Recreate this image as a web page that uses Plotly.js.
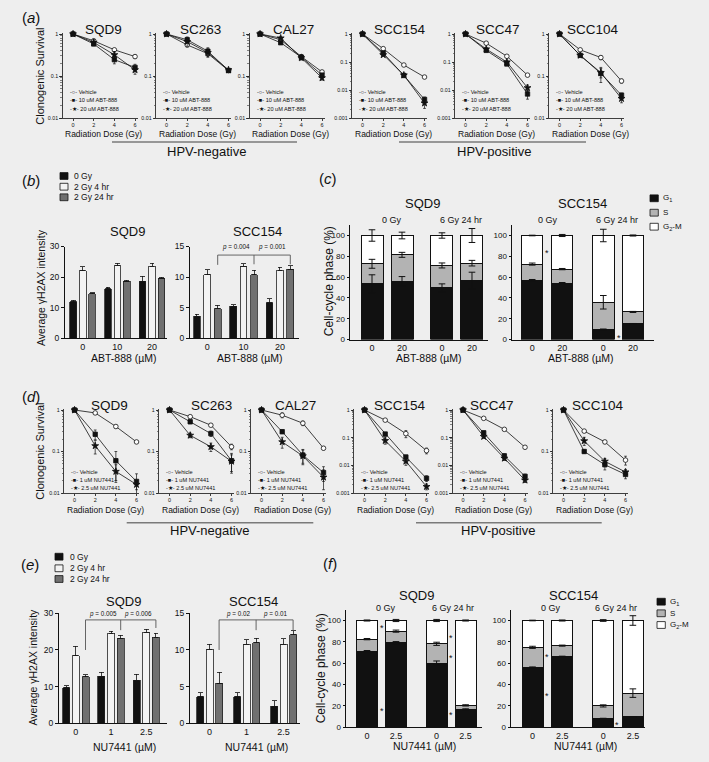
<!DOCTYPE html>
<html><head><meta charset="utf-8">
<script src="https://cdn.plot.ly/plotly-3.0.1.min.js"></script>
<style>html,body{margin:0;padding:0;background:#eeeeee;overflow:hidden}</style>
</head><body><div id="chart" style="width:709px;height:762px;"></div>
<script>
// ================= DATA =================
const doses = [0, 2, 4, 6];
const cellLines = ['SQD9', 'SC263', 'CAL27', 'SCC154', 'SCC47', 'SCC104'];
const decTicks = [1, 0.1, 0.01, 0.001];
const decLabels = ['1', '0.1', '0.01', '0.001'];

// (a) clonogenic survival, ABT-888 (rows follow cellLines)
const abtLegend = ['Vehicle', '10 uM ABT-888', '20 uM ABT-888'];
const aVehicle = [[1,0.69,0.42,0.29],[1,0.55,0.34,0.135],[1,0.73,0.29,0.125],[1,0.30,0.078,0.029],[1,0.47,0.16,0.034],[1,0.42,0.275,0.076]];
const aVehicleErr = [[0,0.03,0.03,0.03],[0,0.06,0.05,0.01],[0,0.05,0.03,0.01],[0,0.02,0.006,0.003],[0,0.04,0.01,0.004],[0,0.03,0.03,0.008]];
const a10uM = [[1,0.58,0.245,0.16],[1,0.73,0.39,0.135],[1,0.62,0.28,0.105],[1,0.21,0.033,0.0046],[1,0.26,0.085,0.0072],[1,0.31,0.115,0.035]];
const a10uMErr = [[0,0.05,0.05,0.03],[0,0.12,0.08,0.01],[0,0.05,0.03,0.01],[0,0.015,0.004,0.001],[0,0.03,0.01,0.0025],[0,0.02,0.045,0.004]];
const a20uM = [[1,0.63,0.32,0.14],[1,0.66,0.36,0.14],[1,0.80,0.27,0.09],[1,0.18,0.034,0.0034],[1,0.29,0.10,0.012],[1,0.31,0.12,0.029]];
const a20uMErr = [[0,0.1,0.06,0.03],[0,0.15,0.08,0.01],[0,0.05,0.03,0.01],[0,0.02,0.004,0.0012],[0,0.03,0.015,0.003],[0,0.02,0.03,0.006]];

// (d) clonogenic survival, NU7441
const nuLegend = ['Vehicle', '1 uM NU7441', '2.5 uM NU7441'];
const dVehicle = [[1,0.85,0.40,0.17],[1,0.69,0.43,0.13],[1,0.75,0.48,0.12],[1,0.43,0.14,0.034],[1,0.50,0.20,0.045],[1,0.31,0.17,0.062]];
const dVehicleErr = [[0,0.03,0.03,0.01],[0,0.05,0.03,0.02],[0,0.1,0.06,0.01],[0,0.03,0.04,0.008],[0,0.03,0.02,0.005],[0,0.02,0.015,0.015]];
const d1uM = [[1,0.26,0.06,0.019],[1,0.52,0.27,0.06],[1,0.30,0.082,0.031],[1,0.135,0.020,0.0034],[1,0.15,0.022,0.0040],[1,0.10,0.048,0.028]];
const d1uMErr = [[0,0.07,0.04,0.01],[0,0.05,0.04,0.03],[0,0.03,0.03,0.012],[0,0.02,0.003,0.0008],[0,0.02,0.004,0.0008],[0,0.01,0.012,0.006]];
const d25uM = [[1,0.137,0.033,0.016],[1,0.245,0.13,0.058],[1,0.17,0.078,0.024],[1,0.078,0.014,0.0017],[1,0.11,0.018,0.0029],[1,0.18,0.058,0.032]];
const d25uMErr = [[0,0.05,0.015,0.004],[0,0.03,0.03,0.025],[0,0.05,0.03,0.012],[0,0.02,0.004,0.0004],[0,0.015,0.003,0.0005],[0,0.04,0.01,0.005]];

// (b)/(e) gamma-H2AX intensity: rows = 0 Gy, 2 Gy 4 hr, 2 Gy 24 hr
const gammaLegend = ['0 Gy', '2 Gy 4 hr', '2 Gy 24 hr'];
const abtDoses = ['0', '10', '20'];
const nuDoses = ['0', '1', '2.5'];
const bSQD9 = [[12.0,16.2,18.7],[22.1,23.7,23.6],[14.6,18.7,19.6]];
const bSQD9Err = [[0.4,0.5,1.5],[1.3,0.9,0.9],[0.3,0.3,0.4]];
const bSCC154 = [[3.6,5.2,5.8],[10.4,11.8,11.1],[4.8,10.4,11.25]];
const bSCC154Err = [[0.3,0.25,0.7],[0.8,0.4,0.55],[0.6,0.7,0.6]];
const bSCC154P = ['<i>p</i> = 0.004', '<i>p</i> = 0.001'];
const eSQD9 = [[9.7,12.8,11.7],[18.4,24.5,24.8],[12.7,23.2,23.5]];
const eSQD9Err = [[0.6,1.1,1.7],[2.6,0.6,0.9],[0.5,0.8,1.0]];
const eSQD9P = ['<i>p</i> = 0.005', '<i>p</i> = 0.006'];
const eSCC154 = [[3.6,3.6,2.3],[10.1,10.8,10.8],[5.45,11.0,12.05]];
const eSCC154Err = [[0.55,0.55,0.75],[0.7,0.6,0.7],[1.5,0.6,0.6]];
const eSCC154P = ['<i>p</i> = 0.02', '<i>p</i> = 0.01'];

// (c)/(f) cell-cycle phase (%), bars = [0 Gy drug0, 0 Gy drug, 6 Gy drug0, 6 Gy drug]
const phaseLegend = ['G<sub>1</sub>', 'S', 'G<sub>2</sub>-M'];
const cycleHeaders = ['0 Gy', '6 Gy 24 hr'];
const abtCycleTicks = ['0', '20', '0', '20'];
const nuCycleTicks = ['0', '2.5', '0', '2.5'];
const cSQD9G1 = [53.5, 56, 49.7, 56.7];
const cSQD9S = [19.3, 25.4, 21.5, 16.7];
const cSQD9Err = [[8.7,4.5,3.8,8],[4.3,2.4,2.4,2.7],[5.5,3.2,2.6,6.7]];
const cSCC154G1 = [56.9, 54.3, 9.6, 15];
const cSCC154S = [15.6, 13.4, 26.2, 11.5];
const cSCC154Err = [[0.8,0.5,0.5,0.4],[1,0.6,6.5,0.5],[0.3,1,6,0.5]];
const cSCC154Stars = [[0.5, 86], [2.88, 4]];
const fSQD9G1 = [71.3, 79, 60, 16.6];
const fSQD9S = [11.2, 11, 18.1, 3.7];
const fSQD9Err = [[0.5,1.2,2,0.5],[0.6,1,1.5,0.6],[0.5,1,1,0.5]];
const fSQD9Stars = [[0.5, 95], [0.5, 17], [2.9, 86], [2.9, 67], [2.9, 14]];
const fSCC154G1 = [56, 66, 7.9, 9.4];
const fSCC154S = [18.8, 10.4, 11.9, 22.4];
const fSCC154Err = [[0.4,0.5,0.3,0.3],[1,0.5,1,4],[0.3,0.5,0.8,4.5]];
const fSCC154Stars = [[0.5, 68], [0.5, 31.5], [2.86, 4]];

// ================= LAYOUT / DRAWING =================
const W = 709, H = 762;
const FONT = '"Liberation Sans", Arial, Helvetica, sans-serif';
const INK = '#111111';
const layout = {width: W, height: H, margin: {l:0, r:0, t:0, b:0}, paper_bgcolor: '#eeeeee',
  plot_bgcolor: 'rgba(0,0,0,0)', showlegend: false, barmode: 'stack', bargap: 0,
  font: {family: FONT, color: INK}, shapes: [], annotations: [], hovermode: false};
const data = [];
let nAx = 0;
const px = x => x / W, py = y => 1 - y / H;

function axes(L, R, T, B, xo, yo) {
  nAx++; const s = nAx === 1 ? '' : String(nAx);
  layout['xaxis' + s] = Object.assign({domain: [px(L), px(R)], anchor: 'y' + s, showgrid: false, zeroline: false,
    showline: true, linecolor: INK, linewidth: 1, ticks: '', fixedrange: true,
    tickfont: {family: FONT, size: 9, color: INK}}, xo);
  layout['yaxis' + s] = Object.assign({domain: [py(B), py(T)], anchor: 'x' + s, showgrid: false, zeroline: false,
    showline: true, linecolor: INK, linewidth: 1, ticks: 'outside', ticklen: 3, tickwidth: 1, tickcolor: INK,
    fixedrange: true, tickfont: {family: FONT, size: 8.5, color: INK}}, yo);
  return {x: 'x' + s, y: 'y' + s};
}
function text(t, x, y, size, o) {
  layout.annotations.push(Object.assign({text: t, x: px(x), y: py(y), xref: 'paper', yref: 'paper',
    showarrow: false, xanchor: 'center', yanchor: 'middle', font: {family: FONT, size: size, color: INK}}, o || {}));
}
function rect(x0, y0, x1, y1, fill) {
  layout.shapes.push({type: 'rect', xref: 'paper', yref: 'paper', x0: px(x0), x1: px(x1), y0: py(y1), y1: py(y0),
    fillcolor: fill, line: {color: INK, width: 0.8}});
}
function hline(x0, x1, y, col, w) {
  layout.shapes.push({type: 'line', xref: 'paper', yref: 'paper', x0: px(x0), x1: px(x1), y0: py(y), y1: py(y),
    line: {color: col, width: w}});
}

// ---- survival panels ----
const DECADES = [2, 2, 2, 3, 3, 2];
function survivalRow(cfg, series, errs, legend) {
  const ppu = 10.33, x0 = -1.02, x1 = 6.25;
  cellLines.forEach((name, i) => {
    const L = cfg.Ls[i], R = L + (x1 - x0) * ppu, dec = DECADES[i];
    const ppd = (cfg.B - cfg.T) / dec, top = 0.03;
    const ax = axes(L, R, cfg.T - top * ppd, cfg.B,
      {range: [x0, x1], tickvals: doses, ticktext: doses.map(String), ticks: 'outside', ticklen: 2,
       tickwidth: 0.8, tickcolor: INK, linewidth: 0.8, tickfont: {family: FONT, size: 5.5, color: INK}},
      {type: 'log', range: [-dec, top], tickvals: decTicks.slice(0, dec + 1), ticktext: decLabels.slice(0, dec + 1),
       ticklen: 2.5, tickwidth: 0.8, linewidth: 0.8, tickfont: {family: FONT, size: 5.3, color: INK},
       minor: {ticks: 'outside', ticklen: 1.3, tickwidth: 0.5, tickcolor: INK, dtick: 'D1'}});
    const sty = [{symbol: 'circle', color: '#ffffff', size: 4.6}, {symbol: 'square', color: INK, size: 4.4},
                 {symbol: 'star', color: INK, size: 5.2}];
    [0, 2, 1].forEach(k => {
      data.push({type: 'scatter', mode: 'lines+markers', x: doses, y: series[k][i], xaxis: ax.x, yaxis: ax.y,
        line: {color: INK, width: 0.8}, cliponaxis: false,
        marker: {symbol: sty[k].symbol, size: sty[k].size, color: sty[k].color, line: {color: INK, width: 0.8}},
        error_y: {type: 'data', array: errs[k][i], visible: true, color: INK, thickness: 0.7, width: 1.4}});
    });
    text(name, cfg.titleX[i], cfg.titleY, 13.5);
    text('Radiation Dose (Gy)', L + 41, cfg.xTitleY, 8.5);
    const glyph = ['-○-', '-■-', '-★-'];
    legend.forEach((lab, k) => text(glyph[k] + ' ' + lab, L + 5, cfg.legY[k], 5.6, {xanchor: 'left'}));
  });
}
const SURV_A = {T: 34, B: 118, Ls: [62.5, 156, 249.5, 352, 455, 549], titleX: [103, 200, 293, 400, 498, 593],
  titleY: 29.5, xTitleY: 134, legY: [91.5, 100.5, 109.5]};
const SURV_D = {T: 410, B: 493, Ls: [64, 159, 251, 354, 452.5, 553], titleX: [109, 211, 295, 400, 492, 598],
  titleY: 405, xTitleY: 510, legY: [472, 480, 488]};
survivalRow(SURV_A, [aVehicle, a10uM, a20uM], [aVehicleErr, a10uMErr, a20uMErr], abtLegend);
survivalRow(SURV_D, [dVehicle, d1uM, d25uM], [dVehicleErr, d1uMErr, d25uMErr], nuLegend);

// ---- grouped bar panels ----
const GCOL = ['#111111', '#f3f3f3', '#707070'];
function grouped(g, cats, vals, errs) {
  const ax = axes(g.L, g.R, g.T, g.B,
    {range: [(g.L - g.c0) / g.unit, (g.R - g.c0) / g.unit], tickvals: cats.map((c, i) => i), ticktext: cats},
    {range: [0, g.yMax], dtick: g.dt, tick0: 0});
  const off = g.off / g.unit, w = g.w / g.unit;
  vals.forEach((v, k) => data.push({type: 'bar', x: cats.map((c, i) => i + (k - 1) * off), y: v, width: w,
    xaxis: ax.x, yaxis: ax.y, marker: {color: GCOL[k], line: {color: '#222', width: 0.8}},
    error_y: {type: 'data', symmetric: false, array: errs[k], arrayminus: errs[k].map(() => 0),
      color: INK, thickness: 0.8, width: 2.4}}));
  return {ax: ax, off: off};
}
function bracket(G, vals, errs, yLine, drops, labels, yText) {
  const xs = [0, 1, 2].map(i => i + G.off);
  const add = (a, b, c, d) => layout.shapes.push({type: 'line', xref: G.ax.x, yref: G.ax.y, x0: a, y0: b, x1: c, y1: d,
    line: {color: '#555', width: 0.9}});
  add(xs[0], yLine, xs[2], yLine);
  xs.forEach((x, i) => add(x, yLine, x, drops[i]));
  labels.forEach((lab, i) => layout.annotations.push({text: lab, x: (xs[i] + xs[i + 1]) / 2, y: yText,
    xref: G.ax.x, yref: G.ax.y, showarrow: false, font: {family: FONT, size: 6.3, color: INK}}));
}
const gb1 = grouped({L: 65, R: 167, T: 246.5, B: 338.3, yMax: 30, dt: 10, unit: 34.65, c0: 82.7, off: 9.4, w: 6.7}, abtDoses, bSQD9, bSQD9Err);
const gb2 = grouped({L: 190, R: 299.3, T: 246.5, B: 338.3, yMax: 15, dt: 5, unit: 36.3, c0: 207.3, off: 10.4, w: 6.7}, abtDoses, bSCC154, bSCC154Err);
bracket(gb2, bSCC154, bSCC154Err, 13.6, [12.0, 12.1, 12.1], bSCC154P, 14.9);
const ge1 = grouped({L: 59, R: 167, T: 613.3, B: 723.3, yMax: 30, dt: 10, unit: 35.2, c0: 75.8, off: 9.7, w: 7}, nuDoses, eSQD9, eSQD9Err);
bracket(ge1, eSQD9, eSQD9Err, 28.2, [20, 25.4, 26], eSQD9P, 29.7);
const ge2 = grouped({L: 190, R: 300, T: 613.3, B: 723.3, yMax: 15, dt: 5, unit: 37, c0: 209.6, off: 9.5, w: 7}, nuDoses, eSCC154, eSCC154Err);
bracket(ge2, eSCC154, eSCC154Err, 14.1, [10, 12.7, 12.7], eSCC154P, 14.85);

text('SQD9', 127.5, 231, 13); text('SCC154', 257.5, 231, 13);
text('ABT-888 (µM)', 124, 358.3, 10.5); text('ABT-888 (µM)', 250, 358.3, 10.5);
text('Average γH2AX intensity', 41.7, 287.3, 10.5, {textangle: -90});
text('SQD9', 123.3, 601.7, 13); text('SCC154', 253, 601.7, 13);
text('NU7441 (µM)', 124, 746.7, 10.5); text('NU7441 (µM)', 256.6, 746.7, 10.5);
text('Average γH2AX intensity', 33.3, 667.3, 10.5, {textangle: -90});
[[176, 186.7, 197.3, 60, 71.7], [556.7, 568.3, 579, 55, 67.5]].forEach(r => {
  gammaLegend.forEach((lab, k) => { rect(r[3], r[k] - 3.4, r[3] + 8, r[k] + 3.4, GCOL[k]);
    text(lab, r[4], r[k], 8.5, {xanchor: 'left'}); });
});

// ---- stacked cell-cycle panels ----
const SCOL = ['#111111', '#b3b3b3', '#ffffff'];
function stacked(s, ticks, g1, sp, errs, stars) {
  const ax = axes(s.L, s.R, s.B - 110 * s.ppy, s.B,
    {range: [(s.L - s.c0) / s.unit, (s.R - s.c0) / s.unit], tickvals: s.pos, ticktext: ticks},
    {range: [0, 110], tickvals: [0, 20, 40, 60, 80, 100], ticklen: 2.5, tickfont: {family: FONT, size: 8, color: INK}});
  const g2m = g1.map((v, i) => 100 - v - sp[i]);
  const w = s.bw / s.unit;
  [g1, sp, g2m].forEach((v, k) => data.push({type: 'bar', x: s.pos, y: v, width: w, xaxis: ax.x, yaxis: ax.y,
    marker: {color: SCOL[k], line: {color: INK, width: 1}}}));
  const tops = [g1, g1.map((v, i) => v + sp[i]), g1.map(() => 100)];
  tops.forEach((t, k) => data.push({type: 'scatter', mode: 'markers', x: s.pos, y: t, xaxis: ax.x, yaxis: ax.y,
    marker: {size: 1, color: 'rgba(0,0,0,0)'}, cliponaxis: false,
    error_y: {type: 'data', array: errs[k], visible: true, color: INK, thickness: 1, width: 3.3}}));
  (stars || []).forEach(st => layout.annotations.push({text: '*', x: st[0], y: st[1], xref: ax.x, yref: ax.y,
    showarrow: false, yshift: -2.5, font: {family: FONT, size: 9, color: INK}}));
}
stacked({L: 350, R: 488.3, B: 339.5, ppy: 1.04, unit: 30, c0: 372, pos: [0, 1, 2.333, 3.333], bw: 22},
  abtCycleTicks, cSQD9G1, cSQD9S, cSQD9Err, []);
stacked({L: 512, R: 654.3, B: 339.5, ppy: 1.04, unit: 30, c0: 532.2, pos: [0, 1, 2.37, 3.36], bw: 21.5},
  abtCycleTicks, cSCC154G1, cSCC154S, cSCC154Err, cSCC154Stars);
stacked({L: 346, R: 482, B: 727, ppy: 1.065, unit: 29, c0: 367, pos: [0, 1, 2.4, 3.4], bw: 21},
  nuCycleTicks, fSQD9G1, fSQD9S, fSQD9Err, fSQD9Stars);
stacked({L: 511, R: 645, B: 727, ppy: 1.065, unit: 29.7, c0: 532.5, pos: [0, 1, 2.38, 3.38], bw: 21},
  nuCycleTicks, fSCC154G1, fSCC154S, fSCC154Err, fSCC154Stars);

text('SQD9', 422.2, 203.3, 13); text('SCC154', 582, 203.3, 13);
text(cycleHeaders[0], 391.7, 220, 9); text(cycleHeaders[1], 461.2, 220, 9);
text(cycleHeaders[0], 548.3, 220, 9); text(cycleHeaders[1], 616.7, 220, 9);
text('ABT-888 (µM)', 428.8, 358.3, 10.5); text('ABT-888 (µM)', 581.3, 358.3, 10.5);
text('Cell-cycle phase (%)', 328.5, 281.7, 12, {textangle: -90});
text('SQD9', 416.7, 595, 13); text('SCC154', 573.3, 595, 13);
text(cycleHeaders[0], 385.8, 608.3, 9); text(cycleHeaders[1], 453, 608.3, 9);
text(cycleHeaders[0], 551.2, 608.3, 9); text(cycleHeaders[1], 615.7, 608.3, 9);
text('NU7441 (µM)', 425, 746, 10.5); text('NU7441 (µM)', 585.8, 746, 10.5);
text('Cell-cycle phase (%)', 321, 668.3, 12, {textangle: -90});
[[198.3, 212.7, 226.7, 650, 660.5], [601.7, 613.3, 625, 657, 667.5]].forEach(r => {
  phaseLegend.forEach((lab, k) => { rect(r[3], r[k] - 3.4, r[3] + 8.3, r[k] + 3.4, SCOL[k]);
    text(lab, r[4], r[k], 8, {xanchor: 'left'}); });
});

// ---- panel labels & HPV groupings ----
text('(<i>a</i>)', 31, 17, 15); text('(<i>b</i>)', 31, 180, 15); text('(<i>c</i>)', 328, 178.3, 15);
text('(<i>d</i>)', 31, 396.7, 15); text('(<i>e</i>)', 30, 564, 15); text('(<i>f</i>)', 330, 563, 15);
text('Clonogenic Survival', 40, 76.7, 11, {textangle: -90});
text('Clonogenic Survival', 40, 451.7, 11, {textangle: -90});
hline(112, 297, 142, '#7a7a7a', 1.5); hline(399, 586, 142, '#7a7a7a', 1.5);
text('HPV-negative', 206.7, 151.5, 13); text('HPV-positive', 494, 151.5, 13);
hline(126.7, 313.3, 522.7, '#7a7a7a', 1.5); hline(416, 601.7, 522.7, '#7a7a7a', 1.5);
text('HPV-negative', 210.3, 530.5, 13); text('HPV-positive', 498.3, 530.5, 13);

Plotly.newPlot('chart', data, layout, {staticPlot: true, displayModeBar: false});
</script>
</body></html>
